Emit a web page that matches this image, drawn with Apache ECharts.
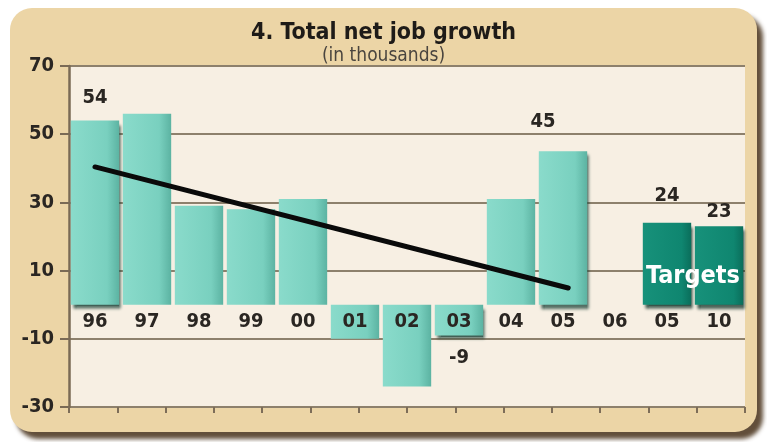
<!DOCTYPE html>
<html>
<head>
<meta charset="utf-8">
<script src="https://cdn.jsdelivr.net/npm/echarts@6/dist/echarts.min.js"></script>
<style>
  html, body { margin: 0; padding: 0; background: #ffffff; }
  #chart { width: 767px; height: 442px; }
</style>
</head>
<body>
<div id="chart"></div>
<script>
// Years along the bottom (the last two are target years)
const years = ['96', '97', '98', '99', '00', '01', '02', '03', '04', '05', '06', '05', '10'];
// Net jobs added each year, in thousands
const netJobs = [54, 56, 29, 28, 31, -10, -24, -9, 31, 45, null, null, null];
// Job growth targets, in thousands
const targets = [null, null, null, null, null, null, null, null, null, null, null, 24, 23];
// Trend line end points: [category position, value]
const trendX = [0.5, 9.6];
const trendY = [40.4, 4.9];
// Value axis ticks
const yTicks = { min: -30, max: 70, step: 20 };

const FONT = '"DejaVu Sans Condensed", "DejaVu Sans", sans-serif';
const INK = '#2a2622';

// Which bars carry a value label, and how far it sits from the bar end
const netLabelStyle = {
  0: { distance: 13 },
  7: { distance: 12 },
  9: { distance: 19, offset: [-20, 0] }
};
const targetLabelStyle = {
  11: { distance: 17 },
  12: { distance: 4 }
};

function labelled(values, styles) {
  return values.map((v, i) => {
    const s = styles[i];
    if (v == null) return { value: null };
    if (!s) return { value: v, label: { show: false } };
    return {
      value: v,
      label: {
        show: true,
        position: v < 0 ? 'bottom' : 'top',
        distance: s.distance,
        offset: s.offset || [0, 0]
      }
    };
  });
}

const lightBar = {
  type: 'linear', x: 0, y: 0, x2: 1, y2: 0,
  colorStops: [
    { offset: 0, color: '#8adbcb' },
    { offset: 0.75, color: '#79d0bf' },
    { offset: 1, color: '#5cb3a2' }
  ]
};
const darkBar = {
  type: 'linear', x: 0, y: 0, x2: 1, y2: 0,
  colorStops: [
    { offset: 0, color: '#17917a' },
    { offset: 0.8, color: '#0f8670' },
    { offset: 1, color: '#0a6e5b' }
  ]
};

const frame = {
  type: 'rect',
  z: -10,
  shape: { x: 10, y: 8, width: 747, height: 424, r: 22 },
  style: {
    fill: '#ecd5a6',
    shadowColor: 'rgba(70, 48, 25, 0.85)',
    shadowBlur: 4,
    shadowOffsetX: 6,
    shadowOffsetY: 7
  }
};

const chart = echarts.init(document.getElementById('chart'), null, { renderer: 'canvas' });

chart.setOption({
  animation: false,
  backgroundColor: '#ffffff',
  title: {
    text: '4. Total net job growth',
    subtext: '(in thousands)',
    left: 'center',
    top: 17,
    itemGap: 2,
    textStyle: { fontFamily: FONT, fontWeight: 'bold', fontSize: 23, color: '#1e1b18' },
    subtextStyle: { fontFamily: FONT, fontSize: 19, color: '#4a453f' }
  },
  graphic: [frame],
  grid: {
    show: true,
    backgroundColor: '#f7efe3',
    borderWidth: 0,
    left: 69, right: 22, top: 66, bottom: 35
  },
  xAxis: [
    {
      type: 'category',
      data: years,
      position: 'bottom',
      z: 10,
      axisLine: { show: false, onZero: false },
      axisTick: { show: false },
      axisLabel: {
        margin: 7,
        fontFamily: FONT, fontWeight: 'bold', fontSize: 20, color: INK
      },
      splitLine: { show: false }
    },
    {
      type: 'value',
      position: 'top',
      min: 0, max: 13,
      show: false
    },
    {
      type: 'value',
      position: 'bottom',
      min: 0, max: 14, interval: 1,
      axisLine: { show: false, onZero: false },
      axisTick: { show: true, length: 6, lineStyle: { color: '#7d6d58', width: 2 } },
      axisLabel: { show: false },
      splitLine: { show: false }
    }
  ],
  yAxis: {
    type: 'value',
    min: yTicks.min, max: yTicks.max, interval: yTicks.step,
    axisLine: { show: true, onZero: false, lineStyle: { color: '#7a6a55', width: 2.5 } },
    axisTick: { show: true, length: 9, lineStyle: { color: '#7a6a55', width: 2 } },
    axisLabel: {
      margin: 15,
      fontFamily: FONT, fontWeight: 'bold', fontSize: 20, color: INK
    },
    splitLine: { show: true, lineStyle: { color: '#8d806c', width: 2 } }
  },
  series: [
    {
      name: 'Net job growth',
      type: 'bar',
      xAxisIndex: 0,
      barCategoryGap: '7%',
      data: labelled(netJobs, netLabelStyle),
      itemStyle: {
        color: lightBar,
        shadowColor: 'rgba(20, 60, 50, 0.8)',
        shadowBlur: 3,
        shadowOffsetX: 2,
        shadowOffsetY: 4
      },
      label: { fontFamily: FONT, fontWeight: 'bold', fontSize: 20, color: INK },
      z: 2
    },
    {
      name: 'Targets',
      type: 'bar',
      xAxisIndex: 0,
      barGap: '-100%',
      barCategoryGap: '7%',
      data: labelled(targets, targetLabelStyle),
      itemStyle: {
        color: darkBar,
        shadowColor: 'rgba(10, 45, 35, 0.8)',
        shadowBlur: 3,
        shadowOffsetX: 2,
        shadowOffsetY: 4
      },
      label: { fontFamily: FONT, fontWeight: 'bold', fontSize: 20, color: INK },
      z: 2
    },
    {
      name: 'Trend',
      type: 'line',
      xAxisIndex: 1,
      data: trendX.map((x, i) => [x, trendY[i]]),
      symbol: 'none',
      lineStyle: { color: '#0a0a0a', width: 5, cap: 'round' },
      z: 4
    }
  ]
});

// Lift the year labels up to the zero line of the value axis
const zeroY = chart.convertToPixel({ yAxisIndex: 0 }, 0);
const floorY = chart.convertToPixel({ yAxisIndex: 0 }, yTicks.min);

// "Targets" caption centred over the two target bars
const capPos = chart.convertToPixel({ xAxisIndex: 1, yAxisIndex: 0 }, [12, 8.4]);

chart.setOption({
  xAxis: [{ offset: zeroY - floorY }],
  graphic: [
    frame,
    {
      type: 'text',
      z: 20,
      x: capPos[0],
      y: capPos[1],
      style: {
        text: 'Targets',
        fill: '#ffffff',
        font: 'bold 25px ' + FONT,
        align: 'center',
        verticalAlign: 'middle'
      }
    }
  ]
});
</script>
</body>
</html>
